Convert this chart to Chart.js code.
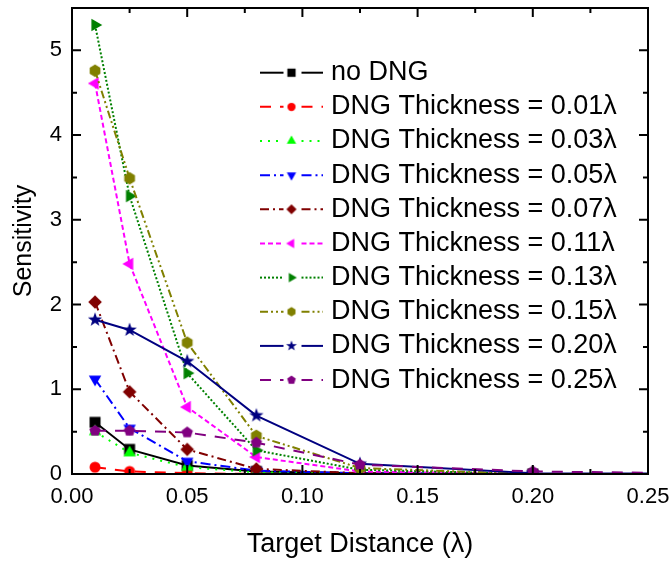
<!DOCTYPE html>
<html>
<head>
<meta charset="utf-8">
<script src="https://cdn.jsdelivr.net/npm/chart.js@4/dist/chart.umd.min.js"></script>
<style>
  html, body { margin: 0; padding: 0; background: #ffffff; }
  #wrap { width: 672px; height: 561px; }
</style>
</head>
<body>
<div id="wrap"><canvas id="chart" width="672" height="561"></canvas></div>
<script>
// Target distance (in wavelengths) for every measured point
const distances = [0.01, 0.025, 0.05, 0.08, 0.125, 0.2, 0.3];

// Sensitivity for each configuration
const noDNG = [0.61, 0.29, 0.10, 0.03, 0.01, 0.00, 0.00];
const t001  = [0.08, 0.03, 0.01, 0.00, 0.00, 0.00, 0.00];
const t003  = [0.50, 0.25, 0.08, 0.02, 0.01, 0.00, 0.00];
const t005  = [1.12, 0.54, 0.15, 0.04, 0.01, 0.00, 0.00];
const t007  = [2.03, 0.97, 0.29, 0.06, 0.01, 0.00, 0.00];
const t011  = [4.61, 2.48, 0.79, 0.20, 0.03, 0.00, 0.00];
const t013  = [5.30, 3.28, 1.19, 0.28, 0.05, 0.00, 0.00];
const t015  = [4.76, 3.49, 1.55, 0.45, 0.07, 0.00, 0.00];
const t020  = [1.82, 1.70, 1.33, 0.69, 0.12, 0.01, 0.00];
const t025  = [0.51, 0.51, 0.49, 0.37, 0.11, 0.03, 0.00];

const seriesValues = [noDNG, t001, t003, t005, t007, t011, t013, t015, t020, t025];
const seriesLabels = [
  'no DNG',
  'DNG Thickness = 0.01\u03bb',
  'DNG Thickness = 0.03\u03bb',
  'DNG Thickness = 0.05\u03bb',
  'DNG Thickness = 0.07\u03bb',
  'DNG Thickness = 0.11\u03bb',
  'DNG Thickness = 0.13\u03bb',
  'DNG Thickness = 0.15\u03bb',
  'DNG Thickness = 0.20\u03bb',
  'DNG Thickness = 0.25\u03bb'
];

// Axis tick labels
const xTickValues = [0, 0.05, 0.10, 0.15, 0.20, 0.25];
const yTickValues = [0, 1, 2, 3, 4, 5];

// Line / marker appearance per series
const seriesStyles = [
  { color: '#000000', dash: [],                 shape: 'square'   },
  { color: '#ff0000', dash: [11, 9],            shape: 'circle'   },
  { color: '#00ff00', dash: [2, 6],             shape: 'triUp'    },
  { color: '#0000ff', dash: [10, 4, 2, 4],      shape: 'triDown'  },
  { color: '#800000', dash: [9, 4, 2, 4],       shape: 'diamond'  },
  { color: '#ff00ff', dash: [5, 3],             shape: 'triLeft'  },
  { color: '#008000', dash: [2, 2],             shape: 'triRight' },
  { color: '#808000', dash: [8, 3, 2, 3, 2, 3], shape: 'hexagon'  },
  { color: '#000080', dash: [],                 shape: 'star'     },
  { color: '#800080', dash: [11, 9],            shape: 'pentagon' }
];

const FONT = '"Liberation Sans", Arial, Helvetica, sans-serif';

function polygon(g, n, r, startDeg) {
  for (let k = 0; k < n; k++) {
    const a = (startDeg + k * 360 / n) * Math.PI / 180;
    const px = r * Math.cos(a), py = r * Math.sin(a);
    if (k === 0) g.moveTo(px, py); else g.lineTo(px, py);
  }
  g.closePath();
}

// Filled marker sprite used as the point style
function markerCanvas(shape, color, scale) {
  const size = 2 * Math.ceil(10 * scale);
  const c = document.createElement('canvas');
  c.width = size; c.height = size;
  const g = c.getContext('2d');
  g.translate(size / 2, size / 2);
  g.scale(scale, scale);
  g.fillStyle = color;
  g.beginPath();
  switch (shape) {
    case 'square':   g.rect(-5.5, -5.5, 11, 11); break;
    case 'circle':   g.arc(0, 0, 5.5, 0, Math.PI * 2); break;
    case 'triUp':    polygon(g, 3, 7.2, -90); break;
    case 'triDown':  polygon(g, 3, 7.2, 90); break;
    case 'triLeft':  polygon(g, 3, 7.2, 180); break;
    case 'triRight': polygon(g, 3, 7.2, 0); break;
    case 'diamond':  polygon(g, 4, 6.8, -90); break;
    case 'hexagon':  polygon(g, 6, 6.2, -90); break;
    case 'pentagon': polygon(g, 5, 6.0, -90); break;
    case 'star':
      for (let k = 0; k < 10; k++) {
        const rr = k % 2 === 0 ? 7.5 : 3.0;
        const a = (-90 + k * 36) * Math.PI / 180;
        if (k === 0) g.moveTo(rr * Math.cos(a), rr * Math.sin(a));
        else g.lineTo(rr * Math.cos(a), rr * Math.sin(a));
      }
      g.closePath();
      break;
  }
  g.fill();
  return c;
}

const legendMarkers = seriesStyles.map(s => markerCanvas(s.shape, s.color, 0.75));

const datasets = seriesValues.map((vals, i) => ({
  label: seriesLabels[i],
  data: distances.map((x, j) => ({ x: x, y: vals[j] })),
  borderColor: seriesStyles[i].color,
  backgroundColor: seriesStyles[i].color,
  borderWidth: 2,
  borderDash: seriesStyles[i].dash,
  pointStyle: markerCanvas(seriesStyles[i].shape, seriesStyles[i].color, 1),
  pointRadius: 6,
  pointHoverRadius: 6,
  tension: 0,
  order: seriesValues.length - i
}));

// Frame on all four sides with inward major/minor ticks
const framePlugin = {
  id: 'frame',
  afterDraw(chart) {
    const ctx = chart.ctx;
    const a = chart.chartArea;
    const xs = chart.scales.x, ys = chart.scales.y;
    ctx.save();
    ctx.strokeStyle = '#000000';
    ctx.lineWidth = 2;
    ctx.setLineDash([]);
    ctx.beginPath();
    for (let k = 0; k <= 10; k++) {
      const v = k * 0.025;
      const len = k % 2 === 0 ? 9 : 5;
      const px = xs.getPixelForValue(v);
      ctx.moveTo(px, a.bottom); ctx.lineTo(px, a.bottom - len);
      ctx.moveTo(px, a.top); ctx.lineTo(px, a.top + len);
    }
    for (let k = 0; k <= 11; k++) {
      const v = k * 0.5;
      const len = k % 2 === 0 ? 9 : 5;
      const py = ys.getPixelForValue(v);
      ctx.moveTo(a.left, py); ctx.lineTo(a.left + len, py);
      ctx.moveTo(a.right, py); ctx.lineTo(a.right - len, py);
    }
    ctx.stroke();
    ctx.strokeRect(a.left, a.top, a.right - a.left, a.bottom - a.top);
    ctx.restore();
  }
};

// Legend: line sample with marker, then the series name
const legendPlugin = {
  id: 'sampleLegend',
  afterDraw(chart) {
    const ctx = chart.ctx;
    const x0 = 260, x1 = 323, xm = 291.5, xt = 331;
    const yFirst = 72.7, rowGap = 34.15;
    ctx.save();
    chart.data.datasets.forEach((ds, i) => {
      const y = yFirst + i * rowGap;
      ctx.strokeStyle = ds.borderColor;
      ctx.lineWidth = 2;
      ctx.setLineDash(ds.borderDash || []);
      ctx.beginPath();
      ctx.moveTo(x0, y); ctx.lineTo(xm - 8, y);
      ctx.stroke();
      ctx.beginPath();
      ctx.moveTo(xm + 10, y); ctx.lineTo(x1, y);
      ctx.stroke();
      ctx.setLineDash([]);
      const m = legendMarkers[i];
      ctx.drawImage(m, xm - m.width / 2, y - m.height / 2);
      ctx.fillStyle = '#000000';
      ctx.font = '27px ' + FONT;
      ctx.textBaseline = 'middle';
      ctx.textAlign = 'left';
      ctx.fillText(ds.label, xt, y);
    });
    ctx.restore();
  }
};

new Chart(document.getElementById('chart'), {
  type: 'line',
  data: { datasets: datasets },
  options: {
    responsive: false,
    animation: false,
    devicePixelRatio: 1,
    layout: { padding: { top: 7, right: 24, left: 0, bottom: 0 } },
    plugins: {
      legend: { display: false },
      tooltip: { enabled: false }
    },
    scales: {
      x: {
        type: 'linear',
        min: 0,
        max: 0.25,
        afterBuildTicks: s => { s.ticks = xTickValues.map(v => ({ value: v })); },
        afterFit: s => { s.height = 87; s.paddingLeft = 0; s.paddingRight = 0; },
        grid: { display: false, drawTicks: false },
        border: { display: false },
        ticks: {
          color: '#000000',
          font: { family: FONT, size: 22 },
          padding: 10,
          maxRotation: 0,
          autoSkip: false,
          callback: v => Number(v).toFixed(2)
        },
        title: {
          display: true,
          text: 'Target Distance (\u03bb)',
          color: '#000000',
          font: { family: FONT, size: 27 },
          padding: { top: 0, bottom: 0 }
        }
      },
      y: {
        type: 'linear',
        min: 0,
        max: 5.5,
        afterBuildTicks: s => { s.ticks = yTickValues.map(v => ({ value: v })); },
        afterFit: s => { s.width = 72; s.paddingTop = 0; s.paddingBottom = 0; },
        grid: { display: false, drawTicks: false },
        border: { display: false },
        ticks: {
          color: '#000000',
          font: { family: FONT, size: 22 },
          padding: 10,
          autoSkip: false,
          callback: v => String(v)
        },
        title: {
          display: true,
          text: 'Sensitivity',
          color: '#000000',
          font: { family: FONT, size: 25 },
          padding: { top: 9, bottom: 0 }
        }
      }
    }
  },
  plugins: [framePlugin, legendPlugin]
});
</script>
</body>
</html>
